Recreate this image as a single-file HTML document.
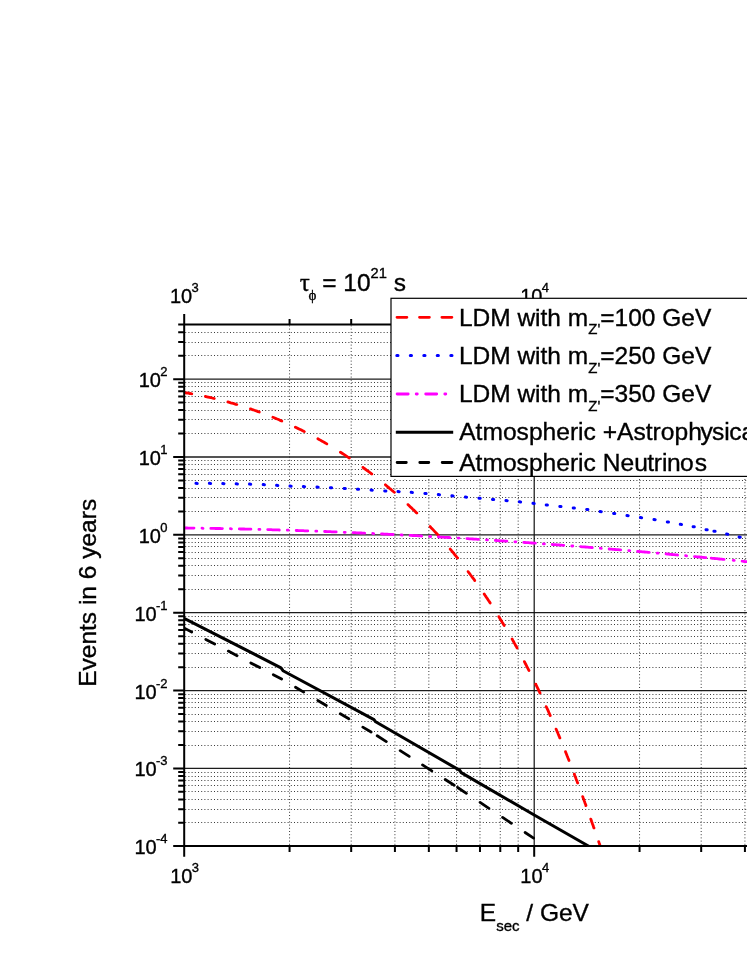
<!DOCTYPE html>
<html><head><meta charset="utf-8"><title>chart</title><style>html,body{margin:0;padding:0;background:#fff}body{width:747px;height:967px;overflow:hidden}</style></head><body>
<svg width="747" height="967" viewBox="0 0 747 967" style="display:block;will-change:transform;font-kerning:none;font-family:'Liberation Sans',sans-serif">
<style>text{stroke:#000;stroke-width:0.35px;paint-order:stroke fill}</style>
<rect width="747" height="967" fill="#fff"/>
<path d="M185.2 822.50H747M185.2 809.50H747M185.2 799.50H747M185.2 791.50H747M185.2 785.50H747M185.2 780.50H747M185.2 776.50H747M185.2 772.50H747M185.2 745.50H747M185.2 731.50H747M185.2 721.50H747M185.2 714.50H747M185.2 707.50H747M185.2 702.50H747M185.2 698.50H747M185.2 694.50H747M185.2 667.50H747M185.2 653.50H747M185.2 643.50H747M185.2 636.50H747M185.2 630.50H747M185.2 624.50H747M185.2 620.50H747M185.2 616.50H747M185.2 589.50H747M185.2 575.50H747M185.2 565.50H747M185.2 558.50H747M185.2 552.50H747M185.2 546.50H747M185.2 542.50H747M185.2 538.50H747M185.2 511.50H747M185.2 497.50H747M185.2 488.50H747M185.2 480.50H747M185.2 474.50H747M185.2 469.50H747M185.2 464.50H747M185.2 460.50H747M185.2 433.50H747M185.2 419.50H747M185.2 410.50H747M185.2 402.50H747M185.2 396.50H747M185.2 391.50H747M185.2 386.50H747M185.2 382.50H747M185.2 355.50H747M185.2 342.50H747M185.2 332.50H747" stroke="#3a3a3a" stroke-width="1" stroke-dasharray="1 2.2" fill="none"/>
<path d="M289.56 325.4V846.0M351.19 325.4V846.0M394.92 325.4V846.0M428.84 325.4V846.0M456.55 325.4V846.0M479.98 325.4V846.0M500.28 325.4V846.0M518.18 325.4V846.0M639.56 325.4V846.0M701.19 325.4V846.0M744.92 325.4V846.0" stroke="#3a3a3a" stroke-width="1" stroke-dasharray="1 2.2" fill="none"/>
<path d="M184.2 768.43H747M184.2 690.57H747M184.2 612.71H747M184.2 534.85H747M184.2 456.99H747M184.2 379.13H747" stroke="#1c1c1c" stroke-width="1.3" fill="none"/>
<path d="M534.20 324.4V846.0" stroke="#111" stroke-width="1.2" fill="none"/>
<clipPath id="c"><rect x="184.2" y="324.4" width="562.8" height="521.6"/></clipPath>
<g clip-path="url(#c)" fill="none">
<path d="M182.9 392.3L183.0 392.3L184.3 392.6L185.7 392.8L187.1 393.0L188.4 393.2L189.8 393.5L191.1 393.7L191.8 393.8M205.4 396.5L205.5 396.5L206.9 396.8L208.2 397.1L209.5 397.4L210.9 397.7L212.2 398.0L213.5 398.3L214.3 398.5M227.9 402.0L228.1 402.0L229.4 402.4L230.7 402.8L232.0 403.1L233.3 403.5L234.6 403.9L235.9 404.3L236.8 404.5M250.4 408.9L250.6 408.9L251.8 409.4L253.1 409.8L254.4 410.3L255.6 410.7L256.9 411.1L258.1 411.6L259.3 412.0M272.9 417.3L272.9 417.3L274.2 417.8L275.4 418.3L276.6 418.8L277.9 419.3L279.1 419.8L280.3 420.4L281.5 420.9L281.8 421.0M295.4 427.2L295.4 427.2L296.6 427.8L297.8 428.4L299.0 428.9L300.2 429.5L301.4 430.1L302.6 430.7L303.8 431.3L304.3 431.6M317.9 438.8L317.9 438.8L319.1 439.5L320.3 440.1L321.4 440.8L322.6 441.4L323.7 442.1L324.9 442.7L326.0 443.4L326.8 443.9M340.4 452.2L340.5 452.3L341.7 453.0L342.8 453.7L343.9 454.4L345.0 455.1L346.1 455.8L347.2 456.6L348.3 457.3L349.3 458.0M362.9 467.5L363.0 467.5L364.0 468.3L365.1 469.0L366.2 469.8L367.2 470.6L368.3 471.4L369.4 472.2L370.4 473.0L371.5 473.8L371.8 474.1M385.4 484.8L385.5 484.9L386.5 485.7L387.5 486.6L388.5 487.4L389.5 488.3L390.6 489.1L391.6 490.0L392.6 490.8L393.6 491.7L394.3 492.3M407.9 504.6L408.0 504.6L409.0 505.5L409.9 506.4L410.9 507.4L411.9 508.3L412.8 509.2L413.8 510.1L414.7 511.0L415.7 512.0L416.6 512.9L416.8 513.1M430.1 526.6L430.2 526.7L431.1 527.7L432.1 528.7L433.0 529.6L433.9 530.6L434.8 531.6L435.7 532.6L436.6 533.5L437.5 534.5L438.3 535.5L438.4 535.5M450.2 549.1L450.2 549.1L451.1 550.2L451.9 551.2L452.8 552.2L453.6 553.2L454.5 554.3L455.3 555.3L456.2 556.3L457.0 557.3L457.6 558.0M468.1 571.6L468.2 571.8L469.0 572.8L469.8 573.9L470.6 575.0L471.4 576.0L472.2 577.1L473.0 578.2L473.8 579.2L474.6 580.3L474.7 580.5M484.2 594.1L484.3 594.2L485.0 595.3L485.8 596.4L486.5 597.5L487.3 598.6L488.0 599.7L488.7 600.8L489.5 601.9L490.2 603.0M498.8 616.6L498.8 616.7L499.5 617.8L500.2 619.0L500.9 620.1L501.6 621.2L502.3 622.4L503.0 623.5L503.7 624.7L504.2 625.5M512.1 639.1L512.2 639.2L512.8 640.4L513.5 641.5L514.1 642.7L514.8 643.9L515.4 645.0L516.1 646.2L516.7 647.4L517.1 648.0M524.4 661.6L524.4 661.6L525.0 662.8L525.6 664.0L526.2 665.2L526.8 666.4L527.4 667.6L528.1 668.8L528.7 670.0L529.0 670.5M535.7 684.1L535.7 684.2L536.3 685.4L536.9 686.6L537.5 687.8L538.0 689.0L538.6 690.2L539.2 691.4L539.8 692.6L540.0 693.0M546.2 706.6L546.3 706.8L546.9 708.0L547.4 709.2L548.0 710.4L548.5 711.6L549.0 712.9L549.6 714.1L550.1 715.3L550.2 715.5M556.1 729.1L556.2 729.3L556.7 730.5L557.2 731.7L557.8 732.9L558.3 734.2L558.8 735.4L559.3 736.6L559.8 737.9L559.9 738.0M565.5 751.6L565.5 751.8L566.0 753.0L566.5 754.2L567.0 755.5L567.5 756.7L568.0 758.0L568.5 759.2L569.0 760.4L569.0 760.5M574.3 774.1L574.3 774.2L574.8 775.5L575.3 776.7L575.8 778.0L576.2 779.2L576.7 780.5L577.2 781.7L577.6 782.9L577.7 783.0M582.7 796.6L582.8 796.8L583.2 798.0L583.7 799.2L584.1 800.5L584.6 801.7L585.0 803.0L585.5 804.2L585.9 805.5L586.0 805.5M590.8 819.1L590.9 819.3L591.3 820.5L591.7 821.7L592.2 823.0L592.6 824.2L593.1 825.4L593.5 826.7L593.9 827.9L594.0 828.0M598.7 841.6L598.7 841.7L599.1 842.9L599.5 844.1L600.0 845.4L600.4 846.6L600.8 847.8L601.2 849.0L601.6 850.3L601.7 850.5" stroke="#ff0000" stroke-width="2.8" stroke-linecap="round"/>
<path d="M182.6 483.4l1.2 0.15M196.0 483.3l1.2 0.15M209.4 483.3l1.2 0.15M222.8 483.5l1.2 0.15M236.2 483.8l1.2 0.15M249.5 484.1l1.2 0.15M263.2 484.6l1.2 0.15M276.6 485.3l1.2 0.15M290.0 486.0l1.2 0.15M303.4 486.5l1.2 0.15M317.0 487.0l1.2 0.15M330.4 487.7l1.2 0.15M344.1 488.4l1.2 0.15M357.4 489.2l1.2 0.15M371.1 490.0l1.2 0.15M384.7 490.9l1.2 0.15M398.0 491.5l1.2 0.15M411.2 492.3l1.2 0.15M424.9 493.4l1.2 0.15M438.3 494.6l1.2 0.15M451.9 495.8l1.2 0.15M465.4 497.0l1.2 0.15M479.0 498.2l1.2 0.15M492.5 499.4l1.2 0.15M506.0 500.5l1.2 0.15M519.4 501.8l1.2 0.15M533.0 503.3l1.2 0.15M546.2 504.9l1.2 0.15M559.8 506.4l1.2 0.15M573.2 507.9l1.2 0.15M586.7 509.4l1.2 0.15M600.1 511.5l1.2 0.15M613.6 513.4l1.2 0.15M627.0 515.5l1.2 0.15M640.4 517.6l1.2 0.15M654.0 519.5l1.2 0.15M667.3 521.9l1.2 0.15M680.3 524.3l1.2 0.15M693.1 526.7l1.2 0.15M706.0 529.7l1.2 0.15M713.9 531.2l1.2 0.15M726.6 534.1l1.2 0.15M739.1 537.0l1.2 0.15" stroke="#0000ff" stroke-width="3" stroke-linecap="round" transform="translate(0,0)"/>
<path d="M182.4 528.0L182.4 528.0L183.5 528.0L184.7 528.0L185.9 528.0L187.0 528.0L188.2 528.1L189.4 528.1L190.5 528.1L191.7 528.1L192.9 528.1L194.0 528.1M202.0 528.2L202.1 528.2L203.0 528.3M210.8 528.4L210.8 528.4L212.0 528.4L213.2 528.4L214.3 528.4L215.5 528.5L216.7 528.5L217.8 528.5L219.0 528.5L220.2 528.5L221.3 528.6L222.4 528.6M230.4 528.7L230.5 528.7L231.4 528.8M239.3 528.9L239.4 528.9L240.6 529.0L241.7 529.0L242.9 529.0L244.1 529.0L245.2 529.1L246.4 529.1L247.6 529.1L248.7 529.2L249.9 529.2L250.9 529.2M258.9 529.4L258.9 529.4L259.9 529.4M267.7 529.6L267.8 529.6L269.0 529.7L270.2 529.7L271.3 529.7L272.5 529.8L273.7 529.8L274.8 529.8L276.0 529.9L277.2 529.9L278.3 529.9L279.3 530.0M287.3 530.2L287.4 530.2L288.3 530.2M296.2 530.5L296.3 530.5L297.4 530.5L298.6 530.6L299.8 530.6L300.9 530.7L302.1 530.7L303.3 530.7L304.4 530.8L305.6 530.8L306.8 530.9L307.8 530.9M315.8 531.2L315.8 531.2L316.8 531.2M324.6 531.5L324.7 531.5L325.8 531.5L327.0 531.6L328.2 531.6L329.3 531.7L330.5 531.7L331.7 531.8L332.8 531.8L334.0 531.9L335.2 531.9L336.2 531.9M344.2 532.3L344.4 532.3L345.2 532.3M353.1 532.6L353.1 532.6L354.3 532.7L355.4 532.7L356.6 532.8L357.8 532.8L358.9 532.9L360.1 533.0L361.3 533.0L362.4 533.1L363.6 533.1L364.7 533.2M372.7 533.5L372.8 533.5L373.7 533.6M381.5 533.9L381.7 533.9L382.8 534.0L384.0 534.1L385.2 534.1L386.3 534.2L387.5 534.2L388.7 534.3L389.8 534.3L391.0 534.4L392.2 534.5L393.1 534.5M401.1 534.9L401.2 534.9L402.1 535.0M410.0 535.4L410.1 535.4L411.2 535.4L412.4 535.5L413.6 535.6L414.7 535.6L415.9 535.7L417.1 535.7L418.2 535.8L419.4 535.9L420.6 535.9L421.6 536.0M429.6 536.4L429.6 536.4L430.6 536.5M438.4 536.9L438.5 536.9L439.6 537.0L440.8 537.1L442.0 537.1L443.1 537.2L444.3 537.3L445.5 537.3L446.6 537.4L447.8 537.5L449.0 537.5L450.0 537.6M458.0 538.1L458.1 538.1L459.0 538.1M466.9 538.6L467.0 538.6L468.2 538.7L469.3 538.8L470.5 538.8L471.7 538.9L472.8 539.0L474.0 539.1L475.2 539.1L476.3 539.2L477.5 539.3L478.5 539.3M486.5 539.9L486.5 539.9L487.5 539.9M495.3 540.4L495.4 540.4L496.6 540.5L497.7 540.6L498.9 540.7L500.0 540.8L501.2 540.8L502.4 540.9L503.5 541.0L504.7 541.1L505.9 541.2L506.9 541.2M514.9 541.8L515.0 541.8L515.9 541.8M523.8 542.4L523.8 542.4L524.9 542.5L526.1 542.6L527.3 542.6L528.4 542.7L529.6 542.8L530.8 542.9L531.9 543.0L533.1 543.1L534.2 543.1L535.4 543.2M543.4 543.8L543.4 543.8L544.4 543.9M552.2 544.5L552.3 544.5L553.4 544.6L554.6 544.6L555.8 544.7L556.9 544.8L558.1 544.9L559.3 545.0L560.4 545.1L561.6 545.2L562.8 545.3L563.8 545.3M571.8 546.0L571.9 546.0L572.8 546.0M580.7 546.7L580.8 546.7L582.0 546.8L583.1 546.9L584.3 546.9L585.4 547.0L586.6 547.1L587.8 547.2L588.9 547.3L590.1 547.4L591.3 547.5L592.3 547.6M600.3 548.2L600.3 548.2L601.3 548.3M609.1 549.0L609.1 549.0L610.3 549.1L611.5 549.2L612.6 549.3L613.8 549.4L615.0 549.5L616.1 549.6L617.3 549.6L618.4 549.7L619.6 549.8L620.7 549.9M628.7 550.6L628.8 550.6L629.7 550.7M637.6 551.4L637.6 551.4L638.8 551.5L639.9 551.6L641.1 551.7L642.3 551.8L643.4 551.9L644.6 552.0L645.8 552.1L646.9 552.2L648.1 552.3L649.2 552.4M657.2 553.1L657.2 553.1L658.2 553.2M666.0 553.9L666.1 553.9L667.3 554.0L668.4 554.1L669.6 554.3L670.7 554.4L671.9 554.5L673.1 554.6L674.2 554.7L675.4 554.8L676.6 554.9L677.6 555.0M685.6 555.7L685.7 555.7L686.6 555.8M694.5 556.6L694.6 556.6L695.7 556.7L696.9 556.8L698.0 556.9L699.2 557.0L700.4 557.1L701.5 557.2L702.7 557.4L703.9 557.5L705.0 557.6L705.9 557.7M705.9 557.7L705.9 557.7M711.2 558.2L711.3 558.2L712.4 558.3L713.6 558.4L714.7 558.5L715.9 558.6L717.1 558.7L718.2 558.9L719.4 559.0L720.5 559.1L721.7 559.2L722.9 559.3L724.0 559.4L724.1 559.4M733.2 560.3L733.3 560.3L734.2 560.4M742.1 561.2L742.2 561.2L743.3 561.3L744.5 561.5L745.6 561.6L746.8 561.7L748.0 561.8L749.1 561.9L750.3 562.1L751.4 562.2L752.6 562.3L753.8 562.4L754.9 562.5L755.0 562.5M760.0 563.1L760.0 563.1" stroke="#ff00ff" stroke-width="2.8" stroke-linecap="round"/>
<path d="M178.0 615.1L184.1 618.3L281.0 667.8L283.0 670.7L374.0 719.6L375.6 721.8L459.8 770.4L461.2 772.6L534.2 815.0L588.8 846.2L600.0 852.6" stroke="#000" stroke-width="3" stroke-linejoin="round"/>
<path d="M182.9 627.4L191.7 632.0M205.8 639.4L214.7 644.0M228.3 651.1L237.1 655.7M250.8 662.9L259.8 667.6M273.3 674.7L281.6 679.0M295.5 687.2L303.7 692.1M317.8 700.5L326.3 705.5M340.3 713.8L348.8 718.8M362.8 727.1L371.1 732.0M377.2 735.8L386.3 741.6M400.2 750.6L409.2 756.4M422.5 764.9L431.8 770.9M445.2 779.5L454.2 785.3M457.6 787.5L466.4 793.3M480.1 802.4L488.9 808.3M502.6 817.4L511.4 823.3M525.1 832.5L533.6 838.1" stroke="#000" stroke-width="2.8" stroke-linecap="round"/>
</g>
<text x="184.4" y="303.0" font-size="20" text-anchor="middle">10<tspan font-size="13" dy="-10.9" dx="-0.6">3</tspan></text>
<text x="534.6" y="303.0" font-size="20" text-anchor="middle">10<tspan font-size="13" dy="-10.9" dx="-0.6">4</tspan></text>
<path d="M184.2 313.9V856.8M178.2 324.4H747M173.2 846.0H747M178.2 822.85H184.2M178.2 809.14H184.2M178.2 799.41H184.2M178.2 791.87H184.2M178.2 785.70H184.2M178.2 780.49H184.2M178.2 775.98H184.2M178.2 771.99H184.2M173.2 768.43H184.2M178.2 744.99H184.2M178.2 731.28H184.2M178.2 721.55H184.2M178.2 714.01H184.2M178.2 707.84H184.2M178.2 702.63H184.2M178.2 698.12H184.2M178.2 694.13H184.2M173.2 690.57H184.2M178.2 667.13H184.2M178.2 653.42H184.2M178.2 643.69H184.2M178.2 636.15H184.2M178.2 629.98H184.2M178.2 624.77H184.2M178.2 620.26H184.2M178.2 616.27H184.2M173.2 612.71H184.2M178.2 589.27H184.2M178.2 575.56H184.2M178.2 565.83H184.2M178.2 558.29H184.2M178.2 552.12H184.2M178.2 546.91H184.2M178.2 542.40H184.2M178.2 538.41H184.2M173.2 534.85H184.2M178.2 511.41H184.2M178.2 497.70H184.2M178.2 487.97H184.2M178.2 480.43H184.2M178.2 474.26H184.2M178.2 469.05H184.2M178.2 464.54H184.2M178.2 460.55H184.2M173.2 456.99H184.2M178.2 433.55H184.2M178.2 419.84H184.2M178.2 410.11H184.2M178.2 402.57H184.2M178.2 396.40H184.2M178.2 391.19H184.2M178.2 386.68H184.2M178.2 382.69H184.2M173.2 379.13H184.2M178.2 355.69H184.2M178.2 341.98H184.2M178.2 332.25H184.2M289.56 324.4v-5.5M289.56 846.0v5.9M351.19 324.4v-5.5M351.19 846.0v5.9M394.92 324.4v-5.5M394.92 846.0v5.9M428.84 324.4v-5.5M428.84 846.0v5.9M456.55 324.4v-5.5M456.55 846.0v5.9M479.98 324.4v-5.5M479.98 846.0v5.9M500.28 324.4v-5.5M500.28 846.0v5.9M518.18 324.4v-5.5M518.18 846.0v5.9M639.56 324.4v-5.5M639.56 846.0v5.9M701.19 324.4v-5.5M701.19 846.0v5.9M744.92 324.4v-5.5M744.92 846.0v5.9M534.20 324.4v-10.5M534.20 846.0v10.8" stroke="#000" stroke-width="2" fill="none"/>
<rect x="391.0" y="298.3" width="400" height="178.1" fill="#fff" stroke="#000" stroke-width="1.2"/>
<path d="M397.0 317.3H406.9M419.5 317.3H429.4M441.9 317.3H451.9" stroke="#ff0000" stroke-width="2.8" stroke-linecap="round" fill="none"/>
<path d="M396.8 355.5h1.2M410.3 355.5h1.2M423.8 355.5h1.2M437.2 355.5h1.2M450.8 355.5h1.2" stroke="#0000ff" stroke-width="3" stroke-linecap="round" fill="none"/>
<path d="M397.1 394.0H408.2M416.2 394.0H417.3M425.7 394.0H436.7M444.8 394.0H445.8" stroke="#ff00ff" stroke-width="2.8" stroke-linecap="round" fill="none"/>
<path d="M395.8 432.3H453.2" stroke="#000" stroke-width="2.9" fill="none"/>
<path d="M397.1 462.5H406.3M419.8 462.5H428.8M442.2 462.5H451.9" stroke="#000" stroke-width="2.8" stroke-linecap="round" fill="none"/>
<text x="458.9" y="325.5" font-size="24.5">LDM with m<tspan font-size="15" dy="8.8">Z'</tspan><tspan dy="-8.8">=100 GeV</tspan></text>
<text x="458.9" y="363.8" font-size="24.5">LDM with m<tspan font-size="15" dy="8.8">Z'</tspan><tspan dy="-8.8">=250 GeV</tspan></text>
<text x="458.9" y="402.0" font-size="24.5">LDM with m<tspan font-size="15" dy="8.8">Z'</tspan><tspan dy="-8.8">=350 GeV</tspan></text>
<text x="459.2" y="440.20000000000005" font-size="24.6">Atmospheric +Astroph<tspan dx="-1.3">y</tspan><tspan dx="-0.9">s</tspan>i<tspan dx="-0.4">c</tspan>al Neutrinos</text>
<text x="459.2" y="470.8" font-size="24.6">Atmospheric Neu<tspan dx="-0.5">t</tspan><tspan dx="-0.5">r</tspan>i<tspan dx="-0.3">n</tspan><tspan dx="-0.8">o</tspan><tspan dx="1.2">s</tspan></text>
<text x="167.6" y="854.2" font-size="20" text-anchor="end">10<tspan font-size="13" dy="-10.9" dx="-0.6">-4</tspan></text>
<text x="167.6" y="776.3" font-size="20" text-anchor="end">10<tspan font-size="13" dy="-10.9" dx="-0.6">-3</tspan></text>
<text x="167.6" y="698.5" font-size="20" text-anchor="end">10<tspan font-size="13" dy="-10.9" dx="-0.6">-2</tspan></text>
<text x="167.6" y="620.6" font-size="20" text-anchor="end">10<tspan font-size="13" dy="-10.9" dx="-0.6">-1</tspan></text>
<text x="167.6" y="542.7" font-size="20" text-anchor="end">10<tspan font-size="13" dy="-10.9" dx="-0.6">0</tspan></text>
<text x="167.6" y="464.9" font-size="20" text-anchor="end">10<tspan font-size="13" dy="-10.9" dx="-0.6">1</tspan></text>
<text x="167.6" y="387.0" font-size="20" text-anchor="end">10<tspan font-size="13" dy="-10.9" dx="-0.6">2</tspan></text>
<text x="184.6" y="882.9" font-size="20" text-anchor="middle">10<tspan font-size="13" dy="-10.9" dx="-0.6">3</tspan></text>
<text x="534.8" y="882.9" font-size="20" text-anchor="middle">10<tspan font-size="13" dy="-10.9" dx="-0.6">4</tspan></text>
<text x="299.8" y="290.5" font-size="25" font-family="'Liberation Serif',serif">τ</text>
<text x="308.6" y="299.6" font-size="15" font-family="'Liberation Serif',serif">ϕ</text>
<text x="322.2" y="290.5" font-size="24.5">= 10<tspan font-size="14.7" dy="-13">21</tspan><tspan dy="13"> s</tspan></text>
<text x="479.8" y="921.3" font-size="24.5">E<tspan font-size="15" dy="9.6">sec</tspan><tspan dy="-9.6"> / GeV</tspan></text>
<text transform="translate(96,686.8) rotate(-90)" font-size="24.5">Events in 6 years</text>
</svg>
</body></html>
